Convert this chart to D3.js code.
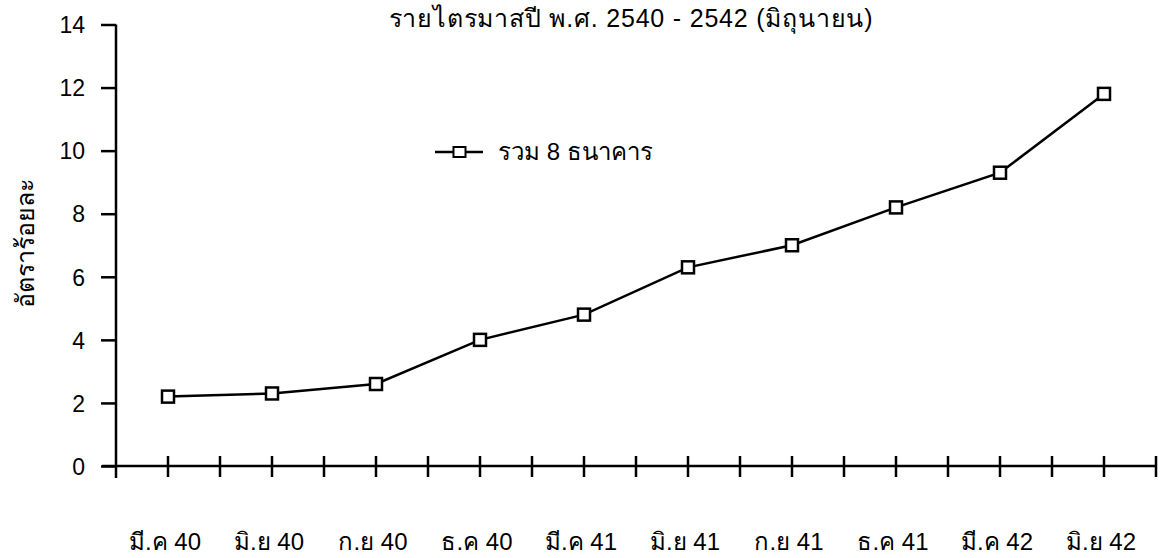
<!DOCTYPE html>
<html><head><meta charset="utf-8">
<script src="https://cdn.jsdelivr.net/npm/d3@7"></script>
<style>
html,body{margin:0;padding:0;background:#fff;}
text{font-family:"Liberation Sans",Arial,"Noto Sans",sans-serif;fill:#000;}
</style></head>
<body><svg id="c" width="1160" height="558"></svg>
<script>
const title = "รายไตรมาสปี พ.ศ. 2540 - 2542 (มิถุนายน)";
const yLabel = "อัตราร้อยละ";
const seriesName = "รวม 8 ธนาคาร";
const categories = ["มี.ค 40","มิ.ย 40","ก.ย 40","ธ.ค 40","มี.ค 41","มิ.ย 41","ก.ย 41","ธ.ค 41","มี.ค 42","มิ.ย 42"];
const values = [2.2, 2.3, 2.6, 4.0, 4.8, 6.3, 7.0, 8.2, 9.3, 11.8];
const yTicks = [0, 2, 4, 6, 8, 10, 12, 14];

const svg = d3.select("#c");
const x0 = 116, x1 = 1156, yTop = 24.5, yBot = 466;
const xi = d3.scaleLinear().domain([0, categories.length]).range([x0, x1]);
const y = d3.scaleLinear().domain([0, 14]).range([yBot, yTop]);

// title
svg.append("text").attr("x", 631).attr("y", 27).attr("text-anchor", "middle")
  .attr("font-size", 25).attr("letter-spacing", 0.8).text(title);

// y axis
const yAxis = d3.axisLeft(y).tickValues(yTicks).tickSize(15).tickPadding(16).tickFormat(d3.format("d"));
const gy = svg.append("g").attr("transform", `translate(${x0},0)`).call(yAxis);
gy.select(".domain").attr("stroke", "#000").attr("stroke-width", 2.5).attr("d", `M0,${yTop}V${yBot + 12}`);
gy.selectAll(".tick line").attr("stroke", "#000").attr("stroke-width", 2.5);
gy.selectAll(".tick text").attr("font-size", 23).attr("dy", "0.36em").style("font-family", "Liberation Sans, Arial, sans-serif");

// x axis
const gx = svg.append("g").attr("transform", `translate(0,${yBot})`);
gx.append("line").attr("x1", xi(0) - 14).attr("x2", xi(categories.length)).attr("stroke", "#000").attr("stroke-width", 2.5);
const halfTicks = d3.range(1, categories.length * 2 + 1).map(k => k / 2);
gx.selectAll("line.t").data(halfTicks).join("line").attr("class", "t")
  .attr("x1", d => xi(d)).attr("x2", d => xi(d)).attr("y1", -10).attr("y2", 11)
  .attr("stroke", "#000").attr("stroke-width", 2.5);
gx.selectAll("text").data(categories).join("text")
  .attr("x", (d, i) => xi(i + 0.5) - 3).attr("y", 84)
  .attr("text-anchor", "middle").attr("font-size", 24).text(d => d);

// y label
svg.append("text").attr("transform", `translate(34,243) rotate(-90)`)
  .attr("text-anchor", "middle").attr("font-size", 25).text(yLabel);

// line
const line = d3.line().x((d, i) => xi(i + 0.5)).y(d => y(d));
svg.append("path").datum(values).attr("d", line).attr("fill", "none")
  .attr("stroke", "#000").attr("stroke-width", 2.5);
const ms = 12;
svg.selectAll("rect.m").data(values).join("rect").attr("class", "m")
  .attr("x", (d, i) => xi(i + 0.5) - ms / 2).attr("y", d => y(d) - ms / 2)
  .attr("width", ms).attr("height", ms).attr("fill", "#fff")
  .attr("stroke", "#000").attr("stroke-width", 2.5);

// legend
const lg = svg.append("g").attr("transform", "translate(435,152)");
lg.append("line").attr("x1", 0).attr("x2", 48).attr("stroke", "#000").attr("stroke-width", 2.5);
lg.append("rect").attr("x", 18.5).attr("y", -5).attr("width", 12).attr("height", 10)
  .attr("fill", "#fff").attr("stroke", "#000").attr("stroke-width", 2);
lg.append("text").attr("x", 63).attr("y", 0).attr("dy", "0.35em").attr("font-size", 24).text(seriesName);
</script></body></html>
